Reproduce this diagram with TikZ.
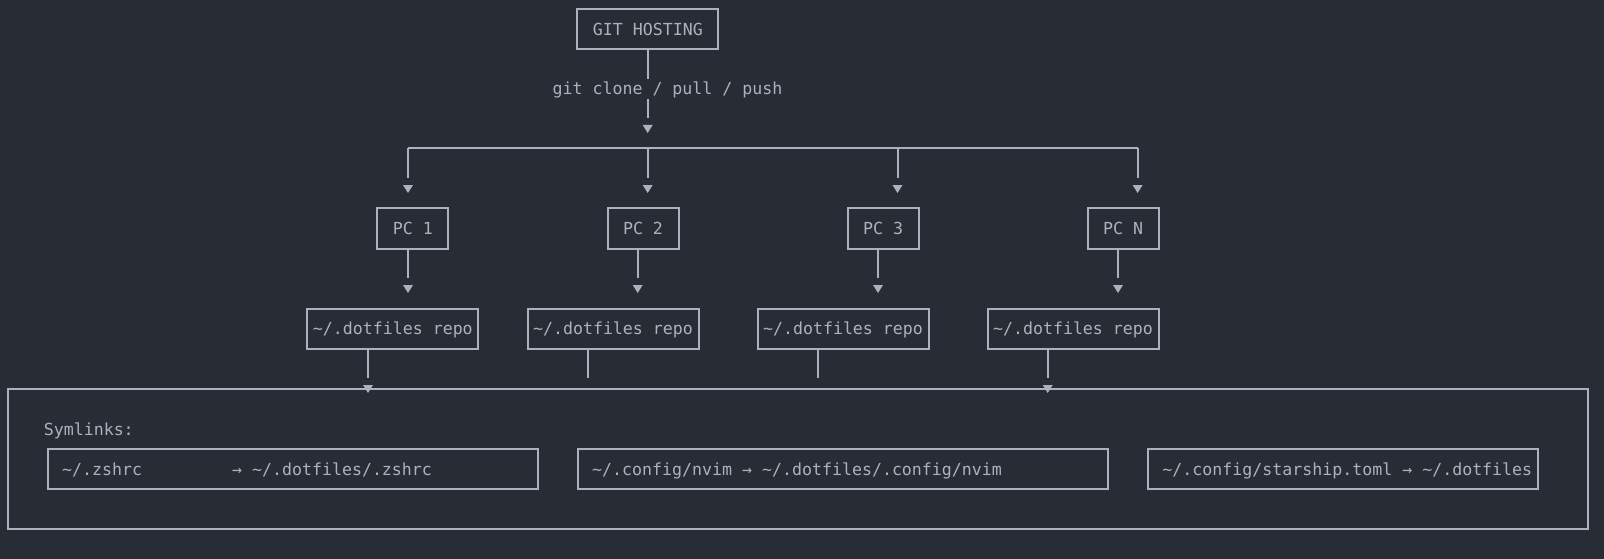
\documentclass[tikz,border=0pt]{standalone}
\usepackage{fontspec}
\setmonofont{DejaVu Sans Mono}
\newcommand\mytl{\string~}
\definecolor{bg}{HTML}{282C34}
\definecolor{fg}{HTML}{ABB2BF}
\begin{document}
\begin{tikzpicture}[x=1pt,y=-1pt,
  every node/.style={text=fg, font=\ttfamily\fontsize{16.6pt}{20pt}\selectfont},
  ln/.style={draw=fg, line width=2pt},
  box/.style={draw=fg, line width=2pt, inner sep=0pt, text height=12pt, text depth=0pt, minimum height=40pt},
  plain/.style={inner sep=0pt, text height=12pt, text depth=0pt},
  tri/.pic={\fill[fg] (-5,-4) -- (5,-4) -- (0,4) -- cycle;}
]
\fill[bg] (0,0) rectangle (1604,559);
\useasboundingbox (0,0) rectangle (1604,559);

% top
\node[box, minimum width=141pt] (git) at (647.8,29.2) {GIT HOSTING};
\node[plain, minimum height=20pt] (lbl) at (667.5,89) {git clone / pull / push};

\coordinate (a0) at (647.7,129);
\coordinate (bus) at (0,148.3);
\coordinate (b1) at (408,189);
\coordinate (b2) at (647.7,189);
\coordinate (b3) at (897.5,189);
\coordinate (b4) at (1137.6,189);
\coordinate (c1) at (408,289);
\coordinate (c2) at (637.7,289);
\coordinate (c3) at (878,289);
\coordinate (c4) at (1118,289);
\coordinate (d1) at (368,389);
\coordinate (e2) at (587.7,378);
\coordinate (e3) at (817.7,378);
\coordinate (d4) at (1047.7,389);

% PCs
\node[box, minimum width=71pt, minimum height=41pt] (pc1) at (412.8,228.8) {PC 1};
\node[box, minimum width=71pt, minimum height=41pt] (pc2) at (643,228.8) {PC 2};
\node[box, minimum width=71pt, minimum height=41pt] (pc3) at (883,228.8) {PC 3};
\node[box, minimum width=71pt, minimum height=41pt] (pc4) at (1123,228.8) {PC N};

% repos
\node[box, minimum width=171pt] (r1) at (392.8,328.7) {\mytl/.dotfiles repo};
\node[box, minimum width=171pt] (r2) at (613,328.7) {\mytl/.dotfiles repo};
\node[box, minimum width=171pt] (r3) at (843,328.7) {\mytl/.dotfiles repo};
\node[box, minimum width=171pt] (r4) at (1073,328.7) {\mytl/.dotfiles repo};

% symlink area
\node[draw=fg, line width=2pt, inner sep=0pt, minimum width=1580.5pt, minimum height=139.5pt] (sym) at (797.75,458.8) {};
\node[anchor=base west, inner sep=0pt] (symlbl) at (43.6,435.7) {Symlinks:};
\node[box, minimum width=490.5pt] (s1) at (292.75,468.7) {};
\node[box, minimum width=530.5pt] (s2) at (842.75,468.7) {};
\node[box, minimum width=390.3pt] (s3) at (1342.9,468.7) {};
\node[anchor=base west, inner sep=0pt] (s1t) at ([xshift=15.5pt,yshift=-6.3pt]s1.west) {\mytl/.zshrc\phantom{xxxxxxxxx}→ \mytl/.dotfiles/.zshrc};
\node[anchor=base west, inner sep=0pt] (s2t) at ([xshift=15.5pt,yshift=-6.3pt]s2.west) {\mytl/.config/nvim → \mytl/.dotfiles/.config/nvim};
\node[anchor=base west, inner sep=0pt] (s3t) at ([xshift=15.5pt,yshift=-6.3pt]s3.west) {\mytl/.config/starship.toml → \mytl/.dotfiles};

% connectors
\draw[ln] (git.south -| a0) -- (a0 |- lbl.north);
\draw[ln] (a0 |- lbl.south) -- ([yshift=11pt]a0);
\draw[ln] (b1 |- bus) -- (b4 |- bus);
\foreach \b in {b1,b2,b3,b4} {\draw[ln] (\b |- bus) -- ([yshift=11pt]\b);}
\draw[ln] (pc1.south -| c1) -- ([yshift=11pt]c1);
\draw[ln] (pc2.south -| c2) -- ([yshift=11pt]c2);
\draw[ln] (pc3.south -| c3) -- ([yshift=11pt]c3);
\draw[ln] (pc4.south -| c4) -- ([yshift=11pt]c4);
\draw[ln] (r1.south -| d1) -- ([yshift=11pt]d1);
\draw[ln] (r2.south -| e2) -- (e2);
\draw[ln] (r3.south -| e3) -- (e3);
\draw[ln] (r4.south -| d4) -- ([yshift=11pt]d4);

% arrowheads
\foreach \p in {a0,b1,b2,b3,b4,c1,c2,c3,c4,d1,d4} {\pic at (\p) {tri};}
\end{tikzpicture}
\end{document}
